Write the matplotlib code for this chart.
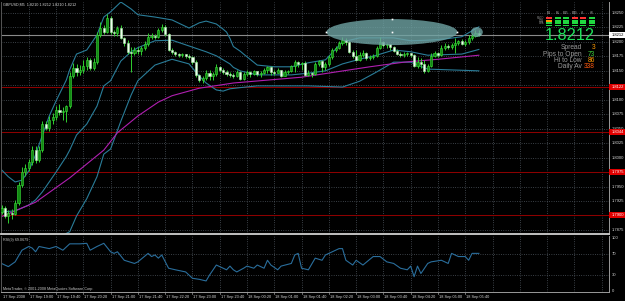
import matplotlib
matplotlib.use("Agg")
import matplotlib.pyplot as plt
import numpy as np
from matplotlib.patches import Rectangle, Ellipse
from matplotlib.transforms import blended_transform_factory as btf

plt.rcParams['font.family'] = ['Liberation Sans', 'DejaVu Sans']

# ---------------- data (GBPUSD, M5, 17 Sep 2008 18:20 -> 18 Sep 06:00) ----------------
opens = [1.7906,1.7913,1.7899,1.7904,1.7903,1.7922,1.7953,1.7975,1.7982,1.7993,
         1.8013,1.7996,1.8013,1.8058,1.8051,1.8065,1.8070,1.8082,1.8079,1.8081,
         1.8089,1.8141,1.8155,1.8148,1.8152,1.8158,1.8169,1.8155,1.8165,1.8212,
         1.8224,1.8217,1.8241,1.8217,1.8215,1.8224,1.8207,1.8198,1.8183,1.8181,
         1.8186,1.8184,1.8190,1.8196,1.8209,1.8210,1.8209,1.8221,1.8226,1.8214,
         1.8186,1.8183,1.8179,1.8177,1.8179,1.8176,1.8174,1.8165,1.8143,1.8134,
         1.8138,1.8146,1.8141,1.8145,1.8157,1.8152,1.8148,1.8145,1.8143,1.8141,
         1.8148,1.8136,1.8145,1.8148,1.8145,1.8150,1.8145,1.8146,1.8152,1.8157,
         1.8148,1.8146,1.8152,1.8141,1.8148,1.8150,1.8158,1.8165,1.8162,1.8164,
         1.8143,1.8146,1.8145,1.8162,1.8167,1.8157,1.8162,1.8174,1.8186,1.8190,
         1.8198,1.8203,1.8200,1.8183,1.8176,1.8169,1.8177,1.8181,1.8172,1.8174,
         1.8176,1.8190,1.8200,1.8195,1.8196,1.8191,1.8184,1.8179,1.8177,1.8179,
         1.8181,1.8177,1.8158,1.8165,1.8162,1.8150,1.8158,1.8176,1.8181,1.8177,
         1.8190,1.8193,1.8191,1.8195,1.8198,1.8202,1.8196,1.8200,1.8207,1.8210,
         1.8215]
highs = [1.7918,1.7917,1.7910,1.7911,1.7927,1.7958,1.7984,1.7989,1.7998,1.8020,
         1.8020,1.8020,1.8063,1.8063,1.8072,1.8077,1.8089,1.8093,1.8088,1.8091,
         1.8148,1.8164,1.8162,1.8160,1.8169,1.8174,1.8172,1.8172,1.8217,1.8234,
         1.8229,1.8248,1.8245,1.8221,1.8228,1.8229,1.8209,1.8203,1.8191,1.8191,
         1.8191,1.8193,1.8202,1.8215,1.8215,1.8214,1.8224,1.8231,1.8229,1.8215,
         1.8190,1.8184,1.8181,1.8181,1.8179,1.8179,1.8176,1.8169,1.8145,1.8141,
         1.8152,1.8152,1.8148,1.8162,1.8158,1.8155,1.8152,1.8148,1.8146,1.8152,
         1.8150,1.8148,1.8152,1.8150,1.8152,1.8150,1.8150,1.8155,1.8158,1.8158,
         1.8152,1.8155,1.8152,1.8152,1.8152,1.8160,1.8169,1.8167,1.8165,1.8167,
         1.8152,1.8148,1.8165,1.8169,1.8169,1.8165,1.8177,1.8190,1.8193,1.8202,
         1.8209,1.8207,1.8203,1.8186,1.8186,1.8183,1.8186,1.8183,1.8177,1.8179,
         1.8193,1.8209,1.8202,1.8198,1.8196,1.8193,1.8188,1.8183,1.8183,1.8183,
         1.8181,1.8179,1.8174,1.8172,1.8169,1.8162,1.8181,1.8184,1.8183,1.8195,
         1.8198,1.8196,1.8198,1.8207,1.8203,1.8205,1.8203,1.8212,1.8215,1.8221,
         1.8221]
lows = [1.7903,1.7896,1.7887,1.7894,1.7901,1.7918,1.7949,1.7968,1.7977,1.7987,
        1.7991,1.7993,1.8010,1.8048,1.8046,1.8058,1.8065,1.8074,1.8065,1.8062,
        1.8086,1.8138,1.8141,1.8143,1.8146,1.8152,1.8152,1.8152,1.8162,1.8209,
        1.8214,1.8215,1.8214,1.8210,1.8210,1.8205,1.8193,1.8179,1.8148,1.8177,
        1.8179,1.8177,1.8186,1.8193,1.8205,1.8205,1.8207,1.8217,1.8210,1.8184,
        1.8179,1.8176,1.8174,1.8174,1.8172,1.8171,1.8162,1.8139,1.8131,1.8129,
        1.8134,1.8134,1.8134,1.8141,1.8148,1.8145,1.8141,1.8139,1.8138,1.8139,
        1.8134,1.8134,1.8141,1.8139,1.8143,1.8141,1.8139,1.8145,1.8146,1.8143,
        1.8143,1.8146,1.8139,1.8141,1.8145,1.8148,1.8148,1.8157,1.8152,1.8141,
        1.8141,1.8139,1.8143,1.8158,1.8148,1.8152,1.8158,1.8171,1.8183,1.8188,
        1.8195,1.8195,1.8181,1.8172,1.8167,1.8167,1.8174,1.8169,1.8169,1.8171,
        1.8174,1.8188,1.8191,1.8190,1.8186,1.8183,1.8177,1.8174,1.8174,1.8176,
        1.8174,1.8157,1.8155,1.8155,1.8146,1.8148,1.8157,1.8174,1.8174,1.8176,
        1.8186,1.8188,1.8188,1.8181,1.8195,1.8195,1.8193,1.8196,1.8203,1.8209,
        1.8210]
closes = [1.7913,1.7899,1.7904,1.7903,1.7922,1.7953,1.7975,1.7982,1.7993,1.8013,
          1.7996,1.8013,1.8058,1.8051,1.8065,1.8070,1.8082,1.8079,1.8081,1.8089,
          1.8141,1.8155,1.8148,1.8152,1.8158,1.8169,1.8155,1.8165,1.8212,1.8224,
          1.8217,1.8241,1.8217,1.8215,1.8224,1.8207,1.8198,1.8183,1.8181,1.8186,
          1.8184,1.8190,1.8196,1.8209,1.8210,1.8209,1.8221,1.8226,1.8214,1.8186,
          1.8183,1.8179,1.8177,1.8179,1.8176,1.8174,1.8165,1.8143,1.8134,1.8138,
          1.8146,1.8141,1.8145,1.8157,1.8152,1.8148,1.8145,1.8143,1.8141,1.8148,
          1.8136,1.8145,1.8148,1.8145,1.8150,1.8145,1.8146,1.8152,1.8157,1.8148,
          1.8146,1.8152,1.8141,1.8148,1.8150,1.8158,1.8165,1.8162,1.8164,1.8143,
          1.8146,1.8145,1.8162,1.8167,1.8157,1.8162,1.8174,1.8186,1.8190,1.8198,
          1.8203,1.8200,1.8183,1.8176,1.8169,1.8177,1.8181,1.8172,1.8174,1.8176,
          1.8190,1.8200,1.8195,1.8196,1.8191,1.8184,1.8179,1.8177,1.8179,1.8181,
          1.8177,1.8158,1.8165,1.8162,1.8150,1.8158,1.8176,1.8181,1.8177,1.8190,
          1.8193,1.8191,1.8195,1.8198,1.8202,1.8196,1.8200,1.8207,1.8210,1.8215,
          1.8212]

# Bollinger bands (read at sample bars)
bb_up_bars = [0,2,4,6,8,10,12,14,16,18,19,20,22,25,28,30,32,35,38,40,45,50,55,58,60,63,65,66,67,68,70,71,75,80,85,90,95,100,105,110,115,120,125,130,135,140]
bb_up_vals = [1.7979,1.7967,1.7958,1.7961,1.7977,1.8005,1.8039,1.8072,1.8098,1.8122,1.8134,1.8152,1.8179,1.8186,1.8212,1.8243,1.8252,1.8269,1.8257,1.8247,1.8243,1.8238,1.8224,1.8233,1.8236,1.8231,1.8222,1.8217,1.8206,1.8192,1.8184,1.8179,1.8160,1.8157,1.8157,1.8164,1.8169,1.8200,1.8207,1.8207,1.8207,1.8202,1.8203,1.8205,1.8209,1.8226]
bb_mid_bars = [0,4,8,10,12,14,16,18,19,20,22,25,28,30,32,35,38,40,45,50,55,58,60,63,65,67,68,70,75,80,85,90,95,100,105,110,115,120,125,130,135,140]
bb_mid_vals = [1.7906,1.7908,1.7918,1.7927,1.7941,1.7958,1.7975,1.7993,1.8002,1.8013,1.8039,1.8058,1.8089,1.8124,1.8133,1.8167,1.8183,1.8190,1.8202,1.8203,1.8193,1.8187,1.8183,1.8176,1.8169,1.8162,1.8156,1.8150,1.8143,1.8143,1.8143,1.8146,1.8150,1.8162,1.8170,1.8177,1.8186,1.8183,1.8177,1.8178,1.8179,1.8187]
bb_lo_bars = [0,4,8,12,16,19,20,22,25,28,30,32,35,38,40,45,50,55,58,60,63,65,67,70,75,80,85,90,95,100,105,110,115,120,125,130,135,140]
bb_lo_vals = [1.7834,1.7858,1.7858,1.7837,1.7851,1.7869,1.7872,1.7899,1.7929,1.7967,1.8006,1.8015,1.8063,1.8108,1.8133,1.8160,1.8170,1.8162,1.8141,1.8129,1.8117,1.8115,1.8119,1.8121,1.8124,1.8124,1.8124,1.8124,1.8123,1.8122,1.8132,1.8148,1.8165,1.8165,1.8153,1.8152,1.8151,1.8150]
ma_bars = [0,10,20,25,30,34,40,46,50,58,68,78,88,98,108,118,128,140]
ma_vals = [1.7898,1.7923,1.7965,1.7989,1.8013,1.8043,1.8072,1.8096,1.8107,1.8120,1.8129,1.8134,1.8139,1.8148,1.8157,1.8165,1.8170,1.8177]

rsi_bars = [0,2,4,6,8,9,10,11,14,16,18,20,23,25,26,28,29,30,32,33,34,36,39,40,43,44,45,46,47,49,
            51,54,56,58,60,61,63,65,66,67,68,69,71,72,74,75,77,78,79,81,82,85,86,87,88,90,92,94,95,97,
            99,100,101,103,104,106,109,111,113,115,117,119,120,121,122,123,125,126,129,131,132,134,136,137,138,140]
rsi_vals = [52,46,55,77,84,81,74,84,80,84,77,89,89,90,77,84,87,90,74,71,74,58,52,55,71,65,68,62,68,43,
            40,36,24,22,19,30,49,43,40,47,40,36,43,47,43,49,43,58,49,40,47,52,68,71,43,40,62,58,68,74,
            80,80,58,49,58,49,65,65,55,52,43,40,47,27,47,33,52,55,58,52,71,65,65,58,71,71]

level_lines = [1.8122, 1.8044, 1.7975, 1.7900]
current_price = 1.8212
price_ticks = [1.8250, 1.8225, 1.8200, 1.8175, 1.8150, 1.8100, 1.8075, 1.8050, 1.8025, 1.8000, 1.7950, 1.7925, 1.7875]
grid_prices = [1.8250, 1.8225, 1.8200, 1.8175, 1.8150, 1.8125, 1.8100, 1.8075, 1.8050, 1.8025, 1.8000, 1.7975, 1.7950, 1.7925, 1.7900, 1.7875]
time_label_bars = [0, 8, 16, 24, 32, 40, 48, 56, 64, 72, 80, 88, 96, 104, 112, 120, 128, 136]
time_labels = ["17 Sep 2008", "17 Sep 19:00", "17 Sep 19:40", "17 Sep 20:20", "17 Sep 21:00", "17 Sep 21:40",
               "17 Sep 22:20", "17 Sep 23:00", "17 Sep 23:40", "18 Sep 00:20", "18 Sep 01:00", "18 Sep 01:40",
               "18 Sep 02:20", "18 Sep 03:00", "18 Sep 03:40", "18 Sep 04:20", "18 Sep 05:00", "18 Sep 05:40"]
vgrid_bars = [8, 16, 24, 32, 40, 48, 56, 64, 72, 80, 88, 96, 104, 112, 120, 128, 136, 144, 152, 160, 168, 176]
rsi_ticks = [100, 70, 30, 0]

ellipse_obj = dict(bar=114.5, price=1.8217, wbars=38.4, hprice=0.0045)
circle_obj = dict(bar=139.4, price=1.8217, wbars=3.5, hprice=0.0017)

panel_tf = ["M1", "M5", "M15", "M30", "H1", "H4"]
panel_rows = ["MACD", "STR", "EMA"]
panel_colors = [["r", "g", "g", "r", "r", "g"],
                ["o", "g", "g", "g", "g", "g"],
                ["g", "g", "g", "g", "g", "g"],
                ["g", "g", "g", "g", "g", "g"]]
stat_labels = ["Spread", "Pips to Open", "Hi to Low", "Daily Av"]
stat_values = ["3", "73", "86", "338"]

# ---------------- figure ----------------
W, H = 625, 301
fig = plt.figure(figsize=(W / 100, H / 100), dpi=100, facecolor='black')

def rect(l, t, r, b):
    return [l / W, 1 - b / H, (r - l) / W, (b - t) / H]

ax = fig.add_axes(rect(1, 2, 609, 234), facecolor='black')
rx = fig.add_axes(rect(1, 236, 609, 292), facecolor='black')
ov = fig.add_axes([0, 0, 1, 1])
ov.set_xlim(0, W); ov.set_ylim(H, 0); ov.axis('off'); ov.patch.set_alpha(0)

XL = (-0.147, 178.16)
ax.set_xlim(*XL); rx.set_xlim(*XL)
P_TOP, P_BOT = 1.8269, 1.7868
ax.set_ylim(P_BOT, P_TOP)
rx.set_ylim(-1.9, 103.8)

for a in (ax, rx):
    a.set_xticks([]); a.set_yticks([])
    for s in a.spines.values():
        s.set_color('#9a9a9a'); s.set_linewidth(0.7)
ax.spines['top'].set_visible(False)
ax.spines['bottom'].set_color('#d0d0d0'); ax.spines['bottom'].set_linewidth(1.3)
rx.spines['top'].set_visible(False)
ax.spines['left'].set_color('#555555'); rx.spines['left'].set_color('#555555')

GRID = dict(color='#5d6670', lw=0.55, linestyle=(0, (1, 2)), zorder=0.5)
for b in vgrid_bars:
    ax.axvline(b, **GRID); rx.axvline(b, **GRID)
for p in grid_prices:
    ax.axhline(p, **GRID)
for v in (70, 30):
    rx.axhline(v, **GRID)

# level lines
for p in level_lines:
    ax.axhline(p, color='#8c0000', lw=0.75, zorder=1)
ax.axhline(current_price, color='#8a8a8a', lw=0.8, zorder=1)

# candles
o = np.array(opens); h = np.array(highs); l = np.array(lows); c = np.array(closes)
idx = np.arange(len(c))
ax.vlines(idx, l, h, colors='#2fd02f', lw=0.7, zorder=3)
bull = c >= o
body_h = np.maximum(np.abs(c - o), 0.00005)
ax.bar(idx[bull], body_h[bull], bottom=np.minimum(o, c)[bull], width=0.62,
       color='#128a12', edgecolor='#3ae03a', linewidth=0.4, zorder=4)
ax.bar(idx[~bull], body_h[~bull], bottom=np.minimum(o, c)[~bull], width=0.62,
       color='#eefcee', edgecolor='#a6f0a6', linewidth=0.4, zorder=4)

# indicators
BB = '#2a7d99'
ax.plot(bb_up_bars, bb_up_vals, color=BB, lw=0.8, zorder=2)
ax.plot(bb_mid_bars, bb_mid_vals, color=BB, lw=0.8, zorder=2)
ax.plot(bb_lo_bars, bb_lo_vals, color=BB, lw=0.8, zorder=2)
ax.plot(ma_bars, ma_vals, color='#b01fb0', lw=0.8, zorder=2)

# objects
e = ellipse_obj
ax.add_patch(Ellipse((e['bar'], e['price']), e['wbars'], e['hprice'],
                     facecolor='#6fa4a4', edgecolor='none', alpha=0.8, zorder=5))
cc = circle_obj
ax.add_patch(Ellipse((cc['bar'], cc['price']), cc['wbars'], cc['hprice'],
                     facecolor='#6fa4a4', edgecolor='none', alpha=0.8, zorder=5))
for bx, py in [(e['bar'] - e['wbars'] / 2, e['price']), (e['bar'], e['price'] + e['hprice'] / 2),
               (e['bar'], e['price']), (e['bar'] + e['wbars'] / 2, e['price'])]:
    ax.plot([bx], [py], marker='s', ms=1.2, color='white', mec='none', zorder=6)

# price axis labels
tr = btf(ax.transAxes, ax.transData)
LBL = dict(color='#d8d8d8', fontsize=3.0, va='center', ha='left', clip_on=False, transform=tr)
for p in price_ticks:
    ax.text(1.004, p, f"{p:.4f}", **LBL)
box_w = 16 / 608
box_h = 6 * (P_TOP - P_BOT) / 232
for p in level_lines:
    ax.add_patch(Rectangle((1.0, p - box_h / 2), box_w, box_h, transform=tr, facecolor='#e00000',
                           edgecolor='none', clip_on=False, zorder=7))
    ax.text(1.004, p, f"{p:.4f}", color='white', fontsize=3.0, va='center', ha='left',
            transform=tr, clip_on=False, zorder=8)
ax.add_patch(Rectangle((1.0, current_price - box_h / 2), box_w, box_h, transform=tr, facecolor='white',
                       edgecolor='none', clip_on=False, zorder=7))
ax.text(1.004, current_price, f"{current_price:.4f}", color='black', fontsize=3.0, va='center',
        ha='left', transform=tr, clip_on=False, zorder=8)

# RSI
rx.plot(rsi_bars, rsi_vals, color='#2a6e9c', lw=0.8)
trr = btf(rx.transAxes, rx.transData)
for v in rsi_ticks:
    rx.text(1.004, v, str(v), color='#d8d8d8', fontsize=3.0, va='center', ha='left',
            transform=trr, clip_on=False)
rx.text(0.003, 0.93, "RSI(9) 69.0679", transform=rx.transAxes, color='#c8c8c8', fontsize=2.7,
        va='center', ha='left')
rx.text(0.003, 0.05, "MetaTrader, \u00a9 2001-2008 MetaQuotes Software Corp.", transform=rx.transAxes,
        color='#c8c8c8', fontsize=2.7, va='center', ha='left')

# time axis
trt = btf(rx.transData, rx.transAxes)
for b, s in zip(time_label_bars, time_labels):
    rx.text(b + 0.3, -0.09, s, transform=trt, color='#d8d8d8', fontsize=2.8, va='center',
            ha='left', clip_on=False)
    if b > 0:
        rx.plot([b, b], [0, -0.04], transform=trt, color='#9a9a9a', lw=0.5, clip_on=False)

# title
ov.text(3, 5, "GBPUSD,M5  1.8210 1.8212 1.8210 1.8212", color='#d8d8d8', fontsize=2.7,
        va='center', ha='left')

# info panel
col_x = [546, 554.5, 563, 571.5, 580, 588.5]
row_y = [17.3, 20.0, 22.4, 24.8]
cmap = {'r': '#ff3030', 'g': '#20d840', 'o': '#ff9a00'}
for j, tf in enumerate(panel_tf):
    ov.text(col_x[j] + 3, 13, tf, color='#a8a8a8', fontsize=2.0, ha='center', va='center')
for r, row in enumerate(panel_colors):
    for j, cl in enumerate(row):
        ov.add_patch(Rectangle((col_x[j], row_y[r]), 6.2, 1.5, facecolor=cmap[cl], edgecolor='none'))
for r, name in enumerate(panel_rows):
    ov.text(544, 18 + r * 2.7, name, color='#8a8a8a', fontsize=1.8, ha='right', va='center')
ov.text(595, 35, "1.8212", color='#1ee05a', fontsize=11.8, ha='right', va='center')
stat_colors = ['#ff9a00', '#3ccf3c', '#ff9a00', '#ff5a10']
for k, (lab, val) in enumerate(zip(stat_labels, stat_values)):
    yy = 47.7 + k * 6.4
    ov.text(582, yy, lab, color='#9a9a9a', fontsize=4.8, ha='right', va='center')
    ov.text(595, yy, val, color=stat_colors[k], fontsize=4.8, ha='right', va='center')

fig.savefig("out.png", dpi=100, facecolor='black')
